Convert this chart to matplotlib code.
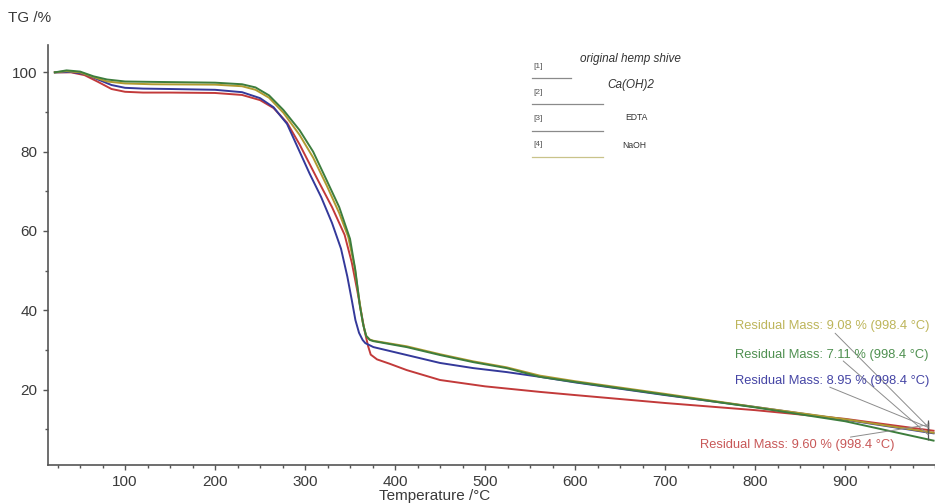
import matplotlib
matplotlib.use("Agg")
import matplotlib.pyplot as plt
from matplotlib.ticker import MultipleLocator

plt.rcParams['font.family'] = ['Liberation Sans', 'DejaVu Sans']

# TG curves (temperature in °C, mass in %)
t_blue = [22, 40, 55, 70, 85, 100, 120, 150, 200, 230, 250, 265, 280, 293, 305, 318, 330,
          340, 347, 352, 356, 360, 364, 367, 376, 413, 450, 487, 524, 561, 600, 700, 800,
          900, 998.4]
m_blue = [100, 100.1, 99.6, 98.2, 96.8, 96.1, 95.9, 95.8, 95.6, 95.0, 93.5, 91.2, 87.0,
          80.5, 74.5, 68.5, 62.0, 55.5, 48.5, 42.5, 37.5, 34.3, 32.5, 31.7, 30.7, 28.7,
          26.7, 25.4, 24.4, 23.2, 21.8, 18.6, 15.6, 12.4, 8.95]

t_red = [22, 40, 55, 70, 85, 100, 120, 150, 200, 230, 250, 265, 280, 294, 315, 330, 344, 352,
         358, 362, 366, 370, 373, 380, 394, 413, 450, 500, 561, 600, 700, 800, 900, 998.4]
m_red = [100, 100, 99.3, 97.6, 95.8, 95.1, 94.9, 94.9, 94.8, 94.3, 93.0, 91.0, 87.3, 81.8,
         72.5, 66.0, 59.0, 52.0, 45.0, 40.0, 35.0, 31.0, 28.8, 27.6, 26.5, 24.9, 22.4, 20.8,
         19.4, 18.6, 16.6, 14.8, 12.6, 9.60]

t_green = [22, 35, 50, 65, 80, 100, 130, 200, 230, 245, 260, 276, 294, 309, 324, 338, 350,
           356, 361, 365, 368, 372, 376, 413, 450, 487, 524, 561, 600, 700, 800, 900, 998.4]
m_green = [100, 100.5, 100.2, 99.0, 98.2, 97.7, 97.6, 97.4, 97.0, 96.2, 94.2, 90.5, 85.4,
           80.0, 72.8, 66.0, 58.0, 50.0, 41.0, 36.0, 33.5, 32.5, 32.2, 30.7, 28.7, 26.9,
           25.4, 23.2, 21.9, 18.7, 15.5, 12.0, 7.11]

t_olive = [22, 35, 50, 65, 80, 100, 130, 200, 230, 245, 260, 276, 294, 309, 324, 338, 348,
           355, 360, 364, 368, 372, 376, 413, 450, 487, 524, 561, 600, 700, 800, 900, 998.4]
m_olive = [100, 100.3, 100.0, 98.8, 97.7, 97.2, 97.0, 96.9, 96.5, 95.6, 93.6, 89.8, 84.2,
           78.5, 71.5, 64.5, 58.5, 51.0, 43.0, 37.0, 33.5, 32.6, 32.3, 30.9, 28.9, 27.1,
           25.6, 23.5, 22.1, 18.9, 15.6, 12.5, 9.08]

legend_ids = ["[1]", "[2]", "[3]", "[4]"]
legend_names = ["original hemp shive", "Ca(OH)2", "EDTA", "NaOH"]

residual_temp = 998.4
residual_vals = [9.08, 7.11, 8.95, 9.60]   # olive, green, blue, red

c_red = "#c23a3a"
c_blue = "#34399a"
c_green = "#3d7d3d"
c_olive = "#b09a30"

W, H = 935, 504
fig = plt.figure(figsize=(W / 100, H / 100), dpi=100)


def fx(px):
    return px / W


def fy(py):
    return 1 - py / H


ax = fig.add_axes([fx(48), fy(465), fx(935) - fx(48), fy(45) - fy(465)])

for t, m, c in [(t_red, m_red, c_red), (t_blue, m_blue, c_blue),
                (t_olive, m_olive, c_olive), (t_green, m_green, c_green)]:
    ax.plot(t, m, color=c, lw=1.4, solid_joinstyle='round')

ax.set_xlim(14.4, 1000)
ax.set_ylim(0.96, 106.9)
ax.xaxis.set_major_locator(MultipleLocator(100))
ax.xaxis.set_minor_locator(MultipleLocator(25))
ax.yaxis.set_major_locator(MultipleLocator(20))
ax.yaxis.set_minor_locator(MultipleLocator(10))
ax.set_xticks([100, 200, 300, 400, 500, 600, 700, 800, 900])
ax.set_yticks([20, 40, 60, 80, 100])

for s in ("top", "right"):
    ax.spines[s].set_visible(False)
for s in ("left", "bottom"):
    ax.spines[s].set_color("#555555")
    ax.spines[s].set_linewidth(1.2)
ax.tick_params(which="major", direction="out", length=3.5, width=1, color="#555555",
               labelsize=11, labelcolor="#3a3a3a", pad=4)
ax.tick_params(which="minor", direction="out", length=2.5, width=1, color="#555555")

# axis titles
fig.text(fx(8), fy(18), "TG /%", fontsize=11, color="#3a3a3a", va="center", ha="left")
fig.text(fx(435), fy(496), "Temperature /°C", fontsize=11, color="#3a3a3a",
         va="center", ha="center")

# legend block
id_y = [66, 92, 118, 145]
line_y = [78, 104, 131, 157]
line_end = [571, 603, 603, 603]
name_xy = [(630, 59), (631, 85), (636, 118), (634, 145)]
name_style = [("italic", 8.5), ("italic", 8.5), ("normal", 6.2), ("normal", 6.2)]
line_cols = ["#8a8a8a", "#8a8a8a", "#8a8a8a", "#c9c38a"]
for i in range(4):
    fig.text(fx(533), fy(id_y[i]), legend_ids[i], fontsize=6, color="#555555",
             va="center", ha="left")
    fig.add_artist(plt.Line2D([fx(532), fx(line_end[i])], [fy(line_y[i])] * 2,
                              color=line_cols[i], lw=0.9))
    st, fs = name_style[i]
    fig.text(fx(name_xy[i][0]), fy(name_xy[i][1]), legend_names[i], fontsize=fs,
             style=st, color="#333333", va="center", ha="center")

# residual mass annotations
ann_cols = ["#bdb55a", "#4f9050", "#4545a5", "#c85858"]
ann_text_xy = [(778, 36.0), (778, 28.7), (778, 22.1), (739, 6.0)]
ann_lead_xy = [(889, 34.2), (898, 27.2), (883, 20.6), (906, 8.0)]
for val, col, txy, lxy in zip(residual_vals, ann_cols, ann_text_xy, ann_lead_xy):
    ax.text(txy[0], txy[1], f"Residual Mass: {val:.2f} % ({residual_temp} °C)",
            fontsize=9.3, color=col, va="center", ha="left")
    ax.annotate("", xy=(residual_temp - 6, val + 1.5), xytext=lxy,
                arrowprops=dict(arrowstyle="-", color="#8c8c8c", lw=0.7,
                                shrinkA=0, shrinkB=0))
    ax.plot([residual_temp - 6], [val + 1.5], marker="|", color="#555555",
            markersize=7, mew=0.9)

fig.savefig("out.png", dpi=100)
